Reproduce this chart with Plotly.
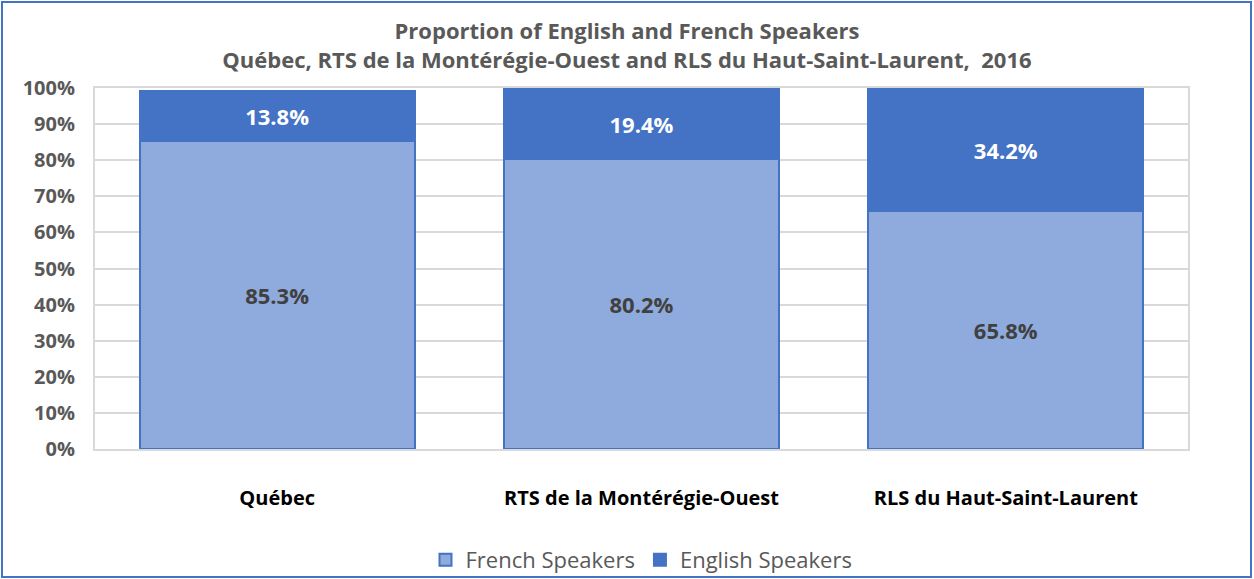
import plotly.graph_objects as go

categories = ["Québec", "RTS de la Montérégie-Ouest", "RLS du Haut-Saint-Laurent"]
french = [85.3, 80.2, 65.8]
english = [13.8, 19.4, 34.2]

W, H = 1254, 579
ml, mr, mt, mb = 95, 66, 88, 130
pw, ph = W - ml - mr, H - mt - mb
FONT = "Open Sans"

fig = go.Figure()
fig.add_trace(go.Bar(
    x=categories, y=french, name="French Speakers",
    marker=dict(color="#8FAADC", line=dict(color="#4472C4", width=2)),
    texttemplate="%{y:.1f}%", textposition="inside", insidetextanchor="middle",
    textfont=dict(color="#404040", size=22, family=FONT, weight="bold"),
))
fig.add_trace(go.Bar(
    x=categories, y=english, name="English Speakers",
    marker=dict(color="#4472C4", line=dict(color="#4472C4", width=2)),
    texttemplate="%{y:.1f}%", textposition="inside", insidetextanchor="middle",
    textfont=dict(color="white", size=22, family=FONT, weight="bold"),
))

fig.update_layout(
    width=W, height=H, barmode="stack", bargap=0.245,
    margin=dict(l=ml, r=mr, t=mt, b=mb, autoexpand=False),
    paper_bgcolor="white", plot_bgcolor="white",
    font=dict(family=FONT, color="#595959"),
    title=dict(
        text="Proportion of English and French Speakers<br>Québec, RTS de la Montérégie-Ouest and RLS du Haut-Saint-Laurent,  2016",
        x=0.5, xanchor="center", y=1 - 39 / H, yanchor="middle",
        font=dict(size=22, color="#595959", family=FONT, weight="bold"),
    ),
    legend=dict(orientation="h", x=0.5, xanchor="center", y=(449 - 560) / ph, yanchor="middle",
                bgcolor="rgba(0,0,0,0)", itemwidth=30,
                font=dict(size=22, color="#595959", family=FONT), traceorder="normal"),
    xaxis=dict(showgrid=False, showline=True, linecolor="#D9D9D9", linewidth=2, mirror=True,
               ticks="outside", ticklen=30, tickcolor="rgba(0,0,0,0)", automargin=False,
               tickfont=dict(size=20, color="#000000", family=FONT, weight="bold")),
    yaxis=dict(range=[0, 100], dtick=10, ticksuffix="%", showgrid=True, gridcolor="#D9D9D9",
               gridwidth=2, showline=True, linecolor="#D9D9D9", linewidth=2, mirror=True,
               zeroline=False, automargin=False,
               ticks="outside", ticklen=14, tickcolor="rgba(0,0,0,0)",
               tickfont=dict(size=20, color="#595959", family=FONT, weight="bold")),
    shapes=[dict(type="rect", xref="paper", yref="paper",
                 x0=(2 - ml) / pw, x1=(W - 3 - ml) / pw,
                 y0=(mt + ph - (H - 2)) / ph, y1=(mt + ph - 2) / ph,
                 line=dict(color="#4472C4", width=2), fillcolor="rgba(0,0,0,0)", layer="above")],
)

fig.write_html("out.html", config={"displayModeBar": False},
               post_script="document.body.style.margin='0';document.body.style.overflow='hidden';")
